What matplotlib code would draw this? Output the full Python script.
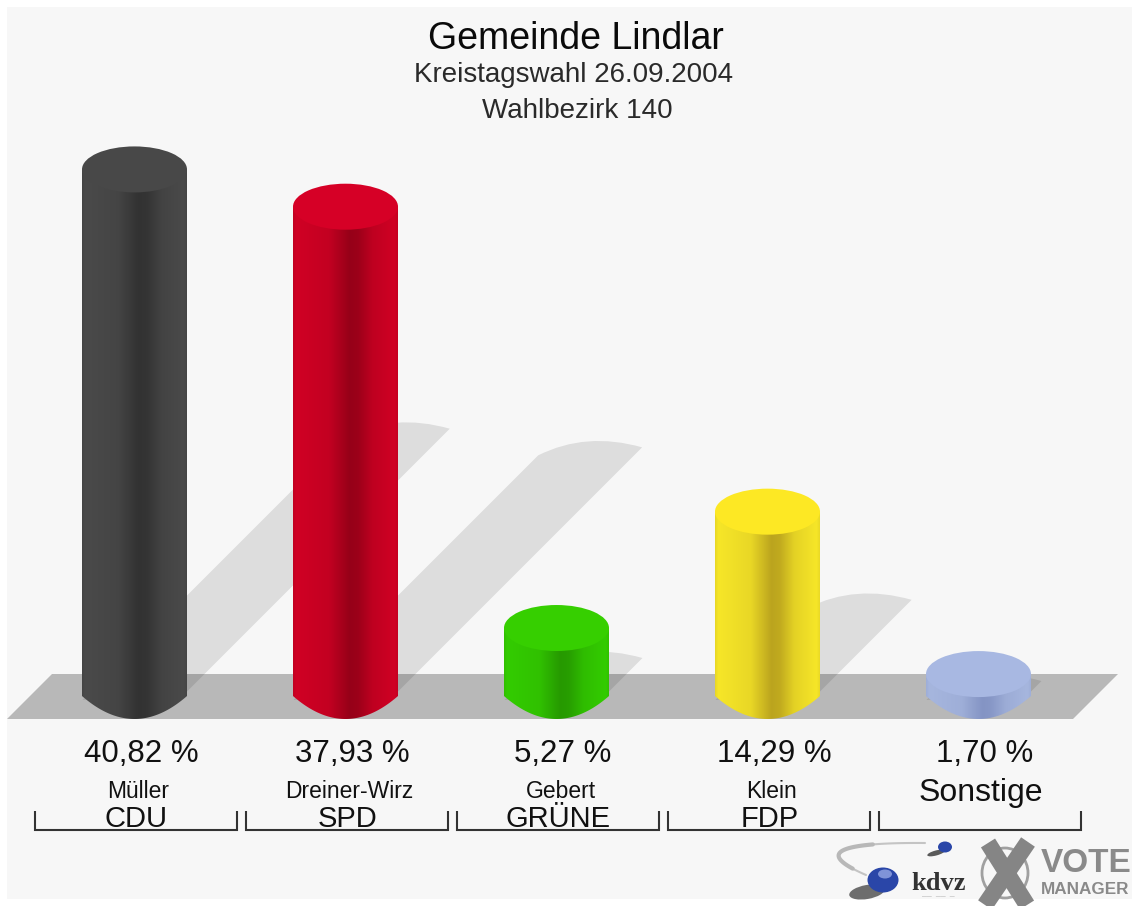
import numpy as np
import matplotlib
matplotlib.use("Agg")
import matplotlib.pyplot as plt
from matplotlib.patches import Ellipse, Polygon, PathPatch, Rectangle
from matplotlib.path import Path
from matplotlib.colors import to_rgb

parties = ["CDU", "SPD", "GRÜNE", "FDP", ""]
candidates = ["Müller", "Dreiner-Wirz", "Gebert", "Klein", "Sonstige"]
values = [40.82, 37.93, 5.27, 14.29, 1.70]
value_labels = ["40,82 %", "37,93 %", "5,27 %", "14,29 %", "1,70 %"]
edge_colors = ["#4A4A4A", "#D00024", "#33CC00", "#F6E628", "#A6B6DE"]
dark_colors = ["#323232", "#960018", "#269900", "#BBA41E", "#8494C4"]
cap_colors = ["#484848", "#D60026", "#36CF00", "#FDE824", "#A8B8E2"]

W, H = 1133, 906
plt.rcParams["font.family"] = ["Liberation Sans", "DejaVu Sans"]
fig = plt.figure(figsize=(W / 100, H / 100), dpi=100, facecolor="white")

# page layer, in pixels
bg = fig.add_axes([0, 0, 1, 1], zorder=0)
bg.set_xlim(0, W)
bg.set_ylim(H, 0)
bg.axis("off")
bg.add_patch(Rectangle((7, 7), W - 8, 892, fc="#F7F7F7", ec="none"))
bg.add_patch(Polygon([(7, 719), (1073, 719), (1118, 674), (52, 674)], fc="#B8B8B8", ec="none"))

# chart layer: category index on x, percent on y
SLOT, X0, PX_PER_PCT, BASE = 211.0, 134.5, 12.9, 696.0
ax = fig.add_axes([0, 0, 1, 1], zorder=1)
ax.patch.set_alpha(0)
ax.axis("off")
xlim = (-X0 / SLOT, (W - X0) / SLOT)
ylim = ((BASE - H) / PX_PER_PCT, BASE / PX_PER_PCT)
HALF_W = 52.5 / SLOT
CAP_B = 23 / PX_PER_PCT


def cat_dx(px):
    return px / SLOT


def pct_dy(px):
    return px / PX_PER_PCT


# shadows
for i, v in enumerate(values):
    k = v * 0.5  # shadow length in percent units
    kx = cat_dx(k * PX_PER_PCT)
    lx, ly = i + kx - cat_dx(52), k - pct_dy(4)
    rx, ry = i + kx + cat_dx(52), k + pct_dy(4)
    cx, cy = i + kx - cat_dx(4), k + pct_dy(20)
    verts = [(i - cat_dx(52), -pct_dy(4)), (lx, ly), (cx, cy), (rx, ry),
             (i + cat_dx(52), pct_dy(4)), (i - cat_dx(52), -pct_dy(4))]
    codes = [Path.MOVETO, Path.LINETO, Path.CURVE3, Path.CURVE3, Path.LINETO, Path.CLOSEPOLY]
    ax.add_patch(PathPatch(Path(verts, codes), fc=(0, 0, 0, 0.10), ec="none", zorder=1))

# cylinders
stops_t = [0.0, 0.03, 0.34, 0.54, 0.62, 0.76, 0.97, 1.0]
stops_m = [0.25, 0.0, 0.22, 1.0, 0.9, 0.30, 0.0, 0.2]
tt = np.linspace(0, 1, 210)
mix = np.interp(tt, stops_t, stops_m)
for i, v in enumerate(values):
    e = np.array(to_rgb(edge_colors[i]))
    d = np.array(to_rgb(dark_colors[i]))
    grad = e[None, None, :] * (1 - mix[None, :, None]) + d[None, None, :] * mix[None, :, None]
    s = np.linspace(-1, 1, 60)
    bottom = np.column_stack([i + HALF_W * s, -CAP_B * (1 - s ** 2)])
    body = np.vstack([bottom, [(i + HALF_W, v), (i - HALF_W, v)]])
    patch = Polygon(body, closed=True, fc="none", ec="none")
    ax.add_patch(patch)
    im = ax.imshow(grad, extent=(i - HALF_W, i + HALF_W, -CAP_B - 1, v + 1),
                   aspect="auto", zorder=2, interpolation="bilinear")
    im.set_clip_path(patch)
    ax.add_patch(Ellipse((i, v), 2 * HALF_W, 2 * CAP_B, fc=cap_colors[i], ec="none", zorder=3))
ax.set_xlim(*xlim)
ax.set_ylim(*ylim)

# labels
ink = "#111111"
bg.text(576, 39, "Gemeinde Lindlar", ha="center", va="center", fontsize=27, color="#0A0A0A")
bg.text(574, 75, "Kreistagswahl 26.09.2004", ha="center", va="center", fontsize=20, color="#2A2A2A")
bg.text(577, 111, "Wahlbezirk 140", ha="center", va="center", fontsize=20, color="#2A2A2A")
for i, lab in enumerate(value_labels):
    cx = X0 + SLOT * i
    bg.text(cx + 6.5, 754, lab, ha="center", va="center", fontsize=22.5, color=ink)
    if parties[i]:
        bg.text(cx + 4, 791, candidates[i], ha="center", va="center", fontsize=16.5, color=ink)
        bg.text(cx + 2, 819, parties[i], ha="center", va="center", fontsize=21, color=ink)
    else:
        bg.text(cx + 2, 793, candidates[i], ha="center", va="center", fontsize=23, color=ink)
    left = 35 + SLOT * i
    bg.plot([left, left, left + 202, left + 202], [811, 829.5, 829.5, 811],
            color="#333333", lw=1.5, solid_joinstyle="miter", solid_capstyle="butt")

# logos
t = np.linspace(0, 1, 60)
arc_x = (1 - t) ** 2 * 925 + 2 * (1 - t) * t * 790 + t ** 2 * 866
arc_y = (1 - t) ** 2 * 843 + 2 * (1 - t) * t * 842 + t ** 2 * 875
bg.plot(arc_x, arc_y, color="#C4C4C4", lw=1.5, solid_capstyle="round")
bg.plot(arc_x[14:54], arc_y[14:54], color="#B8B8B8", lw=3, solid_capstyle="round")
bg.add_patch(Ellipse((867, 892), 36, 14, angle=-10, fc="#333333", ec="none", alpha=0.7))
bg.add_patch(Ellipse((883, 880), 31, 25, fc="#2A46A8", ec="none"))
bg.add_patch(Ellipse((885, 874), 14, 9, fc="#7F93D8", ec="none"))
bg.add_patch(Ellipse((936, 853), 18, 5, angle=-15, fc="#333333", ec="none", alpha=0.8))
bg.add_patch(Ellipse((945, 847), 14, 11, fc="#2A46A8", ec="none"))
bg.text(939, 884, "kdvz", ha="center", va="center", fontsize=19, fontweight="bold",
        family="Liberation Serif", color="#333333")
bg.text(938, 897, "——   ——   —", ha="center", va="center", fontsize=3.5, color="#999999")
bg.add_patch(Ellipse((1005, 873), 46, 50, fc="none", ec="#A0A0A0", lw=2))
bg.plot([988, 1027], [843, 905], color="#858585", lw=12, solid_capstyle="butt")
bg.plot([1028, 985], [842, 905], color="#858585", lw=12, solid_capstyle="butt")
bg.text(1041, 864, "VOTE", ha="left", va="center", fontsize=24, fontweight="bold", color="#8A8A8A")
bg.text(1041, 889, "MANAGER", ha="left", va="center", fontsize=12.3, fontweight="bold", color="#8A8A8A")

fig.savefig("out.png", dpi=100, facecolor="white")
